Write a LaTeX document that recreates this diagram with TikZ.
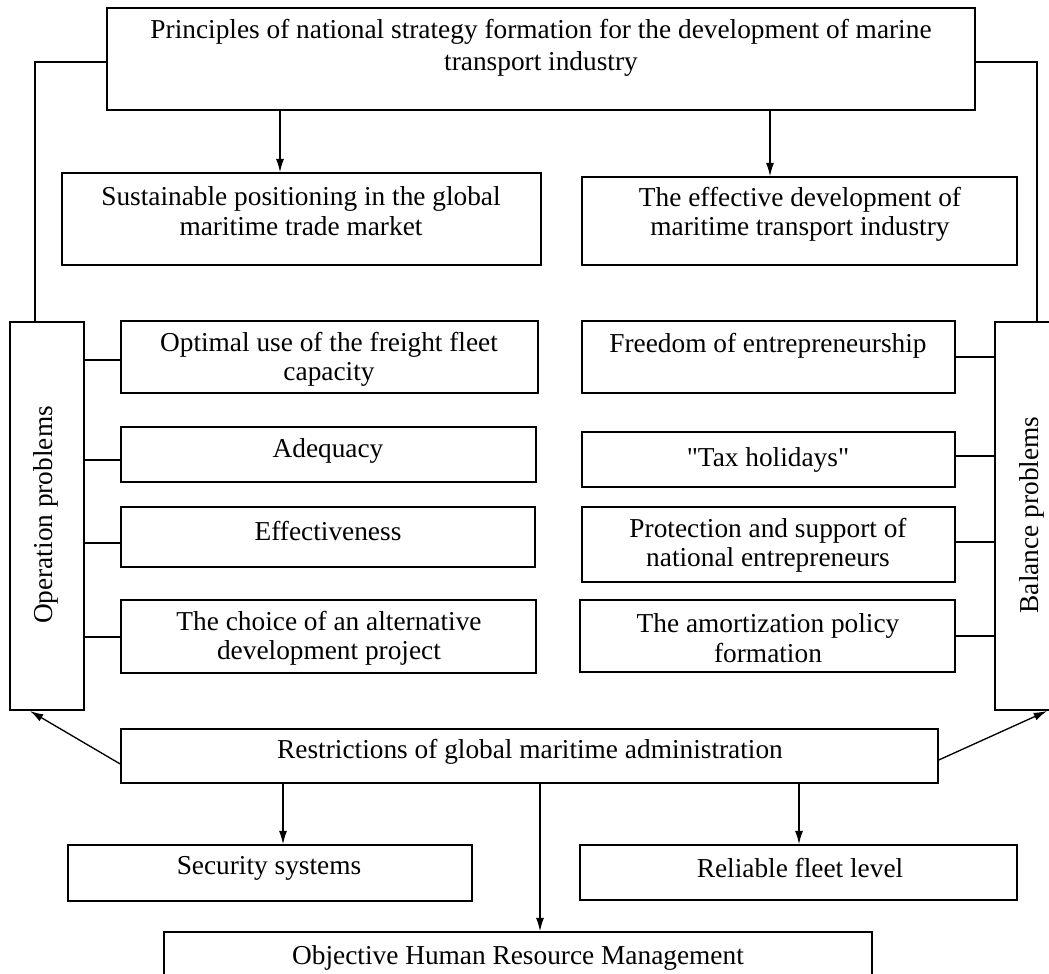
\documentclass[tikz,border=0pt]{standalone}
\usepackage{fontspec}
\setmainfont{Liberation Serif}
\usetikzlibrary{arrows.meta,calc}
\newcommand\mybox[5]{\node[box, minimum width={(#4-#2)*0.75pt}, minimum height={(#5-#3)*0.75pt}] (#1) at ({(#2+#4)/2},{(#3+#5)/2}) {};}
\begin{document}
\begin{tikzpicture}[x=0.75pt,y=-0.75pt,
 box/.style={draw, line width=1.1pt, inner sep=0pt},
 txt/.style={align=center, inner sep=0pt, font=\fontsize{20.5}{22}\selectfont},
 arr/.style={line width=1pt, -{Latex[length=10pt,width=6pt]}},
 ln/.style={line width=1pt}]
\useasboundingbox (0,0) rectangle (1049,974);
\clip (0,0) rectangle (1049,974);
\fill[white] (0,0) rectangle (1049,974);
% boxes
\mybox{top}{107}{8}{975}{110}
\mybox{sus}{62}{173}{541}{265}
\mybox{eff}{582}{177}{1017}{265}
\mybox{op}{10}{322}{84}{710}
\mybox{bal}{995}{322}{1070}{710}
\mybox{opt}{121}{321}{538}{393}
\mybox{adq}{121}{427}{536}{482}
\mybox{efs}{121}{507}{535}{567}
\mybox{cho}{121}{600}{536}{673}
\mybox{fre}{582}{321}{955}{393}
\mybox{tax}{582}{432}{955}{487}
\mybox{pro}{582}{507}{955}{582}
\mybox{amo}{580}{600}{955}{672}
\mybox{res}{121}{729}{938}{783}
\mybox{sec}{68}{845}{472}{901}
\mybox{rel}{580}{845}{1017}{900}
\mybox{hrm}{164}{932}{872}{1000}
% texts
\node[txt, font=\fontsize{20.5}{24}\selectfont] (ttop) at (541,48) {Principles of national strategy formation for the development of marine\\transport industry};
\node[txt] (tsus) at (301,211) {Sustainable positioning in the global\\maritime trade market};
\node[txt] (teff) at (800,214) {The effective development of\\maritime transport industry};
\node[txt] (topt) at (329,359) {Optimal use of the freight fleet\\capacity};
\node[txt] (tfre) at (768,346) {Freedom of entrepreneurship};
\node[txt] (tadq) at (328,451) {Adequacy};
\node[txt] (ttax) at (768,460) {\addfontfeature{Ligatures=TeXOff}"Tax holidays"};
\node[txt] (tefs) at (328,531) {Effectiveness};
\node[txt] (tpro) at (768,545) {Protection and support of\\national entrepreneurs};
\node[txt] (tcho) at (329,638) {The choice of an alternative\\development project};
\node[txt] (tamo) at (768,638) {The amortization policy\\formation};
\node[txt] (tres) at (530,752) {Restrictions of global maritime administration};
\node[txt] (tsec) at (269,868) {Security systems};
\node[txt] (trel) at (800,868) {Reliable fleet level};
\node[txt] (thrm) at (518,958) {Objective Human Resource Management};
\node[txt, rotate=90] (top2) at (46,515) {Operation problems};
\node[txt, rotate=90] (tbal) at (1032,515) {Balance problems};
% connectors
\draw[ln] (top.west |- 0,62) -| (op.north -| 35,0);
\draw[ln] (top.east |- 0,62) -| (bal.north -| 1037,0);
\draw[ln] (opt.west |- 0,360) -- (op.east |- 0,360);
\draw[ln] (adq.west |- 0,460) -- (op.east |- 0,460);
\draw[ln] (efs.west |- 0,543) -- (op.east |- 0,543);
\draw[ln] (cho.west |- 0,637) -- (op.east |- 0,637);
\draw[ln] (fre.east |- 0,357) -- (bal.west |- 0,357);
\draw[ln] (tax.east |- 0,456) -- (bal.west |- 0,456);
\draw[ln] (pro.east |- 0,542) -- (bal.west |- 0,542);
\draw[ln] (amo.east |- 0,636) -- (bal.west |- 0,636);
\draw[arr] (top.south -| 280,0) -- (sus.north -| 280,0);
\draw[arr] (top.south -| 770,0) -- (eff.north -| 770,0);
\draw[arr] (res.south -| 283,0) -- (sec.north -| 283,0);
\draw[arr] (res.south -| 799,0) -- (rel.north -| 799,0);
\draw[arr] (res.south -| 540,0) -- (hrm.north -| 540,0);
\coordinate (opin) at (30,711);
\coordinate (balin) at (1047,711);
\draw[arr] (res.west |- 0,764) -- (opin);
\draw[arr] (res.east |- 0,760) -- (balin);
\end{tikzpicture}
\end{document}
